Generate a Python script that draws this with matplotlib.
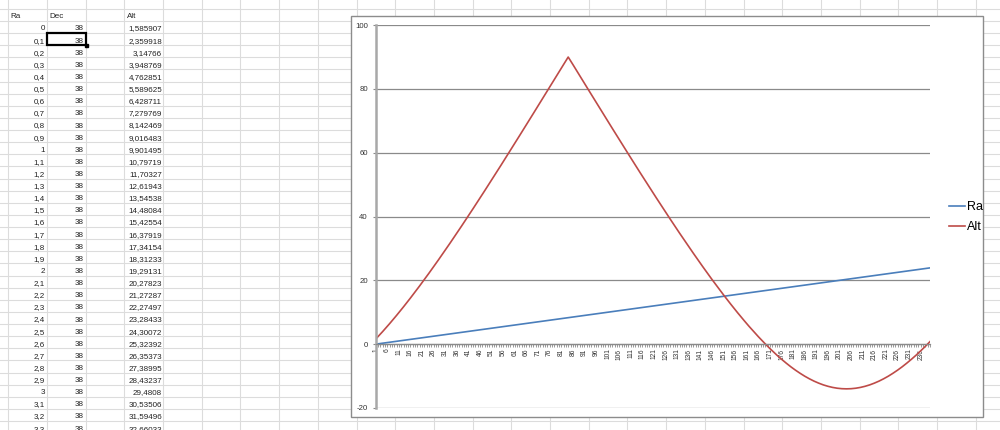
import matplotlib.pyplot as plt
from matplotlib.patches import Rectangle

# Columnas de la hoja
ra = [
    0, 0.1, 0.2, 0.3, 0.4, 0.5, 0.6, 0.7, 0.8, 0.9,
    1, 1.1, 1.2, 1.3, 1.4, 1.5, 1.6, 1.7, 1.8, 1.9,
    2, 2.1, 2.2, 2.3, 2.4, 2.5, 2.6, 2.7, 2.8, 2.9,
    3, 3.1, 3.2, 3.3, 3.4, 3.5, 3.6, 3.7, 3.8, 3.9,
    4, 4.1, 4.2, 4.3, 4.4, 4.5, 4.6, 4.7, 4.8, 4.9,
    5, 5.1, 5.2, 5.3, 5.4, 5.5, 5.6, 5.7, 5.8, 5.9,
    6, 6.1, 6.2, 6.3, 6.4, 6.5, 6.6, 6.7, 6.8, 6.9,
    7, 7.1, 7.2, 7.3, 7.4, 7.5, 7.6, 7.7, 7.8, 7.9,
    8, 8.1, 8.2, 8.3, 8.4, 8.5, 8.6, 8.7, 8.8, 8.9,
    9, 9.1, 9.2, 9.3, 9.4, 9.5, 9.6, 9.7, 9.8, 9.9,
    10, 10.1, 10.2, 10.3, 10.4, 10.5, 10.6, 10.7, 10.8, 10.9,
    11, 11.1, 11.2, 11.3, 11.4, 11.5, 11.6, 11.7, 11.8, 11.9,
    12, 12.1, 12.2, 12.3, 12.4, 12.5, 12.6, 12.7, 12.8, 12.9,
    13, 13.1, 13.2, 13.3, 13.4, 13.5, 13.6, 13.7, 13.8, 13.9,
    14, 14.1, 14.2, 14.3, 14.4, 14.5, 14.6, 14.7, 14.8, 14.9,
    15, 15.1, 15.2, 15.3, 15.4, 15.5, 15.6, 15.7, 15.8, 15.9,
    16, 16.1, 16.2, 16.3, 16.4, 16.5, 16.6, 16.7, 16.8, 16.9,
    17, 17.1, 17.2, 17.3, 17.4, 17.5, 17.6, 17.7, 17.8, 17.9,
    18, 18.1, 18.2, 18.3, 18.4, 18.5, 18.6, 18.7, 18.8, 18.9,
    19, 19.1, 19.2, 19.3, 19.4, 19.5, 19.6, 19.7, 19.8, 19.9,
    20, 20.1, 20.2, 20.3, 20.4, 20.5, 20.6, 20.7, 20.8, 20.9,
    21, 21.1, 21.2, 21.3, 21.4, 21.5, 21.6, 21.7, 21.8, 21.9,
    22, 22.1, 22.2, 22.3, 22.4, 22.5, 22.6, 22.7, 22.8, 22.9,
    23, 23.1, 23.2, 23.3, 23.4, 23.5, 23.6, 23.7, 23.8, 23.9,
]

dec = 38

alt = [
    1.585907, 2.359918, 3.14766, 3.948769, 4.762851, 5.589625, 6.428711, 7.279769, 8.142469, 9.016483,
    9.901495, 10.79719, 11.70327, 12.61943, 13.54538, 14.48084, 15.42554, 16.37919, 17.34154, 18.31233,
    19.29131, 20.27823, 21.27287, 22.27497, 23.28433, 24.30072, 25.32392, 26.35373, 27.38995, 28.43237,
    29.4808, 30.53506, 31.59496, 32.66033, 33.74, 34.81, 35.90, 36.98, 38.07, 39.17,
    40.27, 41.37, 42.48, 43.59, 44.71, 45.83, 46.95, 48.08, 49.21, 50.34,
    51.47, 52.61, 53.75, 54.90, 56.04, 57.19, 58.34, 59.50, 60.65, 61.81,
    62.97, 64.14, 65.30, 66.46, 67.63, 68.80, 69.97, 71.14, 72.31, 73.49,
    74.66, 75.84, 77.02, 78.19, 79.37, 80.55, 81.73, 82.91, 84.09, 85.27,
    86.45, 87.64, 88.82, 89.96, 88.82, 87.64, 86.45, 85.27, 84.09, 82.91,
    81.73, 80.55, 79.37, 78.19, 77.02, 75.84, 74.66, 73.49, 72.31, 71.14,
    69.97, 68.80, 67.63, 66.46, 65.30, 64.14, 62.97, 61.81, 60.65, 59.50,
    58.34, 57.19, 56.04, 54.90, 53.75, 52.61, 51.47, 50.34, 49.21, 48.08,
    46.95, 45.83, 44.71, 43.59, 42.48, 41.37, 40.27, 39.17, 38.07, 36.98,
    35.90, 34.81, 33.74, 32.67, 31.60, 30.54, 29.48, 28.44, 27.39, 26.35,
    25.33, 24.30, 23.28, 22.27, 21.27, 20.27, 19.29, 18.31, 17.34, 16.37,
    15.42, 14.47, 13.54, 12.61, 11.69, 10.79, 9.89, 9.00, 8.13, 7.27,
    6.41, 5.57, 4.75, 3.93, 3.13, 2.34, 1.57, 0.80, 0.06, -0.68,
    -1.39, -2.09, -2.78, -3.45, -4.10, -4.73, -5.35, -5.94, -6.53, -7.09,
    -7.63, -8.15, -8.65, -9.13, -9.60, -10.04, -10.45, -10.85, -11.23, -11.58,
    -11.91, -12.21, -12.50, -12.76, -12.99, -13.20, -13.39, -13.55, -13.69, -13.80,
    -13.89, -13.95, -13.99, -14.00, -13.99, -13.95, -13.89, -13.80, -13.69, -13.55,
    -13.39, -13.20, -12.99, -12.76, -12.50, -12.21, -11.91, -11.58, -11.23, -10.85,
    -10.45, -10.04, -9.60, -9.13, -8.65, -8.15, -7.63, -7.09, -6.53, -5.94,
    -5.35, -4.73, -4.10, -3.45, -2.78, -2.09, -1.39, -0.68, 0.06, 0.80,
]

headers = ['Ra', 'Dec', 'Alt']
visible_rows = 34

plt.rcParams['font.family'] = ['Liberation Sans', 'DejaVu Sans']
plt.rcParams['axes.unicode_minus'] = False


def excel(v):
    # formato "General" de Excel con coma decimal
    return f"{v:.7g}".replace('.', ',')


fig = plt.figure(figsize=(10, 4.3), dpi=100)

# Hoja de calculo de fondo (coordenadas en pixeles)
sheet = fig.add_axes([0, 0, 1, 1])
sheet.set_xlim(0, 1000)
sheet.set_ylim(430, 0)
sheet.axis('off')

grid_c = '#dcdcdc'
col_w = 38.7
row_h = 12.125
for i in range(27):
    sheet.axvline(8.2 + i * col_w, color=grid_c, lw=0.8)
for i in range(37):
    sheet.axhline(8.8 + i * row_h, color=grid_c, lw=0.8)

txt = dict(fontsize=5.8, color='#222222', va='center')
sheet.text(10, 16, headers[0], ha='left', **txt)
sheet.text(49, 16, headers[1], ha='left', **txt)
sheet.text(127, 16, headers[2], ha='left', **txt)
for k in range(visible_rows):
    y = 29 + k * row_h
    sheet.text(45, y, excel(ra[k]), ha='right', **txt)
    sheet.text(84, y, str(dec), ha='right', **txt)
    sheet.text(162, y, excel(alt[k]), ha='right', **txt)

# celda seleccionada
sheet.add_patch(Rectangle((47, 20.9 + row_h), col_w, row_h, fill=False,
                          edgecolor='black', lw=1.6, zorder=4))
sheet.add_patch(Rectangle((84.5, 43.5), 3.5, 3.5, color='black', zorder=5))

# Area del grafico
sheet.add_patch(Rectangle((351, 16), 632, 401, facecolor='white',
                          edgecolor='#8c8c8c', lw=1, zorder=6))

# Grafico de lineas
ax = fig.add_axes([0.3757, 22 / 430, 0.5543, 383 / 430])
ax.patch.set_alpha(0)
x = list(range(len(ra)))
ax.plot(x, ra, color='#4a7ebb', lw=1.2, label='Ra')
ax.plot(x, alt, color='#be4b48', lw=1.2, label='Alt')

ax.set_xlim(0, len(ra) - 1)
ax.set_ylim(-20, 100)
ax.set_yticks(range(-20, 101, 20))
ax.yaxis.grid(True, color='#8a8a8a', lw=0.9)
ax.set_axisbelow(True)

for s in ['top', 'right']:
    ax.spines[s].set_visible(False)
ax.spines['left'].set_color('#a8a8a8')
ax.spines['left'].set_linewidth(1.8)
ax.spines['bottom'].set_position(('data', 0))
ax.spines['bottom'].set_color('#8a8a8a')
ax.spines['bottom'].set_linewidth(0.9)

ax.set_xticks(list(range(0, len(ra), 5)))
ax.set_xticklabels([str(i + 1) for i in range(0, len(ra), 5)])
ax.set_xticks(x, minor=True)
ax.tick_params(axis='x', which='both', direction='out', length=2.2,
               color='#8a8a8a', width=0.6, labelsize=4.8, labelrotation=90,
               pad=1, labelcolor='#333333')
ax.tick_params(axis='y', direction='out', length=2.2, color='#8a8a8a',
               labelsize=5.6, pad=3.5, labelcolor='#333333')

ax.legend(loc='center left', bbox_to_anchor=(0.9427, 0.4949),
          bbox_transform=fig.transFigure, frameon=False, fontsize=9,
          handlelength=1.25, handletextpad=0.2, borderpad=0,
          labelspacing=0.6)

fig.savefig('out.png', dpi=100)
